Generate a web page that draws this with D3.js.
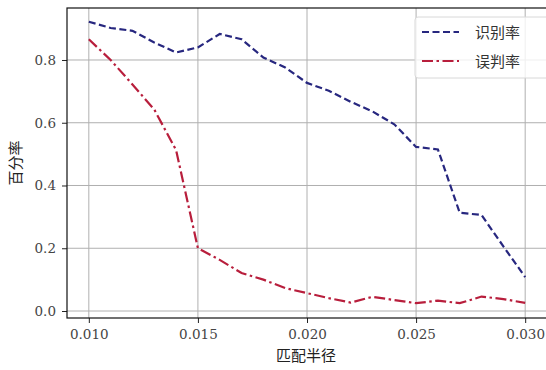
<!DOCTYPE html>
<html>
<head>
<meta charset="utf-8">
<script src="https://cdn.jsdelivr.net/npm/d3@7"></script>
<style>
  body { margin: 0; background: #fff; }
  svg { display: block; }
</style>
</head>
<body>
<svg id="chart" width="546" height="370"></svg>
<script>
// match radius values
var radius = [0.010, 0.011, 0.012, 0.013, 0.014, 0.015, 0.016, 0.017, 0.018, 0.019, 0.020,
              0.021, 0.022, 0.023, 0.024, 0.025, 0.026, 0.027, 0.028, 0.029, 0.030];
var recognition = [0.922, 0.902, 0.893, 0.856, 0.824, 0.840, 0.883, 0.866, 0.808, 0.776, 0.727,
                   0.702, 0.667, 0.636, 0.595, 0.523, 0.515, 0.313, 0.306, 0.206, 0.108];
var misjudge = [0.866, 0.800, 0.722, 0.642, 0.513, 0.200, 0.163, 0.121, 0.100, 0.073, 0.057,
                0.041, 0.027, 0.045, 0.035, 0.025, 0.033, 0.025, 0.046, 0.038, 0.026];
var xTicks = [0.010, 0.015, 0.020, 0.025, 0.030];
var yTicks = [0.0, 0.2, 0.4, 0.6, 0.8];

var svg = d3.select("#chart");
var pLeft = 67, pRight = 547, pTop = 8, pBottom = 318;

var x = d3.scaleLinear().domain([0.009, 0.031]).range([pLeft, pRight]);
var y = d3.scaleLinear().domain([-0.0223, 0.9657]).range([pBottom, pTop]);

// grid
svg.append("g").selectAll("line").data(xTicks).join("line")
  .attr("x1", d => x(d)).attr("x2", d => x(d))
  .attr("y1", pTop).attr("y2", pBottom)
  .attr("stroke", "#b0b0b0").attr("stroke-width", 1);
svg.append("g").selectAll("line").data(yTicks).join("line")
  .attr("x1", pLeft).attr("x2", pRight)
  .attr("y1", d => y(d)).attr("y2", d => y(d))
  .attr("stroke", "#b0b0b0").attr("stroke-width", 1);

// axes
var xAxis = svg.append("g").attr("transform", "translate(0," + pBottom + ")")
  .call(d3.axisBottom(x).tickValues(xTicks).tickFormat(d3.format(".3f")).tickSizeOuter(0).tickSize(5).tickPadding(6));
var yAxis = svg.append("g").attr("transform", "translate(" + pLeft + ",0)")
  .call(d3.axisLeft(y).tickValues(yTicks).tickFormat(d3.format(".1f")).tickSizeOuter(0).tickSize(5).tickPadding(6));
xAxis.select(".domain").remove();
yAxis.select(".domain").remove();
svg.selectAll(".tick line").attr("stroke", "#222").attr("stroke-width", 1);
svg.selectAll(".tick text")
  .style("font-family", "'DejaVu Serif', serif")
  .style("font-size", "13.5px")
  .style("fill", "#444");

// frame
svg.append("rect").attr("x", pLeft).attr("y", pTop)
  .attr("width", pRight - pLeft).attr("height", pBottom - pTop)
  .attr("fill", "none").attr("stroke", "#111").attr("stroke-width", 1.2);

var line = d3.line().x(d => x(d[0])).y(d => y(d[1]));

svg.append("path")
  .datum(d3.zip(radius, recognition))
  .attr("d", line)
  .attr("fill", "none").attr("stroke", "#27277f").attr("stroke-width", 2.2)
  .attr("stroke-dasharray", "7,3.5");

svg.append("path")
  .datum(d3.zip(radius, misjudge))
  .attr("d", line)
  .attr("fill", "none").attr("stroke", "#b81e3c").attr("stroke-width", 2.2)
  .attr("stroke-dasharray", "11,3.5,2.5,3.5");

// axis labels
svg.append("text").attr("x", (pLeft + pRight) / 2 - 1).attr("y", 361)
  .attr("text-anchor", "middle")
  .style("font-family", "'Noto Sans CJK SC', sans-serif").style("font-size", "15px").style("fill", "#222")
  .text("匹配半径");
svg.append("text")
  .attr("transform", "translate(21," + ((pTop + pBottom) / 2) + ") rotate(-90)")
  .attr("text-anchor", "middle")
  .style("font-family", "'Noto Sans CJK SC', sans-serif").style("font-size", "15px").style("fill", "#222")
  .text("百分率");

// legend
var legend = svg.append("g");
legend.append("rect").attr("x", 415).attr("y", 17).attr("width", 140).attr("height", 61)
  .attr("rx", 3).attr("fill", "#fff").attr("fill-opacity", 0.8)
  .attr("stroke", "#d8d8d8");
var items = [
  { label: "识别率", color: "#27277f", dash: "7,3.5" },
  { label: "误判率", color: "#b81e3c", dash: "11,3.5,2.5,3.5" }
];
items.forEach(function (it, i) {
  var yy = 32 + i * 29;
  legend.append("line").attr("x1", 422).attr("x2", 459).attr("y1", yy).attr("y2", yy)
    .attr("stroke", it.color).attr("stroke-width", 2.2).attr("stroke-dasharray", it.dash);
  legend.append("text").attr("x", 475).attr("y", yy + 5.5)
    .style("font-family", "'Noto Sans CJK SC', sans-serif").style("font-size", "15px").style("fill", "#333")
    .text(it.label);
});
</script>
</body>
</html>
